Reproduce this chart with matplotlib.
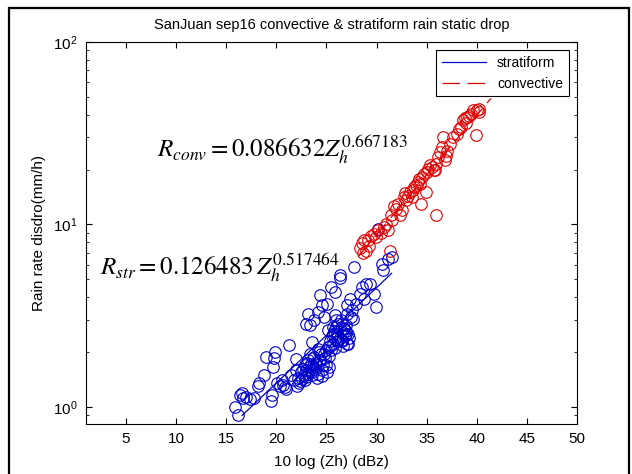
import numpy as np
import matplotlib
matplotlib.use('Agg')
from matplotlib import pyplot as plt
from matplotlib.patches import Rectangle

# stratiform drops (dBZ, rain rate mm/h)
str_dbz = [15.9, 16.2, 16.4, 16.7, 16.6, 17.0, 17.4, 17.8, 18.2, 18.3, 18.8, 19.0,
           19.8, 19.9, 19.7, 19.6, 19.5, 20.1, 20.4, 20.7, 20.9, 21.3, 21.5, 21.8,
           22.0, 22.1, 22.2, 22.4, 22.5, 22.6, 22.7, 22.8, 22.9, 23.0, 23.0, 23.1,
           23.2, 23.2, 23.3, 23.4, 23.4, 23.5, 23.6, 23.6, 23.7, 23.8, 23.9, 24.0,
           24.1, 24.2, 24.2, 24.3, 24.4, 24.5, 24.6, 24.7, 24.8, 24.9, 25.0, 25.0,
           25.1, 25.2, 25.3, 25.4, 25.5, 25.6, 25.7, 25.8, 25.9, 26.0, 26.1, 26.2,
           26.3, 26.4, 26.5, 26.6, 26.7, 26.8, 26.9, 27.0, 27.1, 27.2, 23.0, 23.2,
           23.4, 23.8, 24.2, 24.4, 24.6, 24.8, 25.1, 25.2, 25.5, 25.7, 25.7, 25.9,
           25.9, 26.1, 26.3, 26.4, 26.5, 26.7, 26.9, 27.0, 27.1, 27.3, 27.5, 27.6,
           27.7, 27.9, 28.3, 28.5, 28.7, 28.9, 29.3, 29.7, 29.9, 30.5, 30.6, 31.1,
           31.5, 30.1, 26.3, 27.0, 26.0, 25.4, 22.3, 22.9, 23.5, 24.0, 24.6, 25.3,
           25.9, 26.6, 21.0, 20.6, 22.0, 23.7, 24.3, 26.2, 26.9, 27.4]
str_rate = [1.00, 0.90, 1.17, 1.12, 1.20, 1.14, 1.10, 1.12, 1.30, 1.36, 1.50, 1.88,
            1.85, 2.00, 1.66, 1.17, 1.08, 1.35, 1.30, 1.32, 1.28, 2.18, 1.50, 1.40,
            1.84, 1.30, 1.45, 1.38, 1.55, 1.42, 1.62, 1.50, 1.70, 1.46, 1.60, 1.75,
            1.80, 1.52, 1.65, 1.59, 1.96, 1.72, 2.27, 1.50, 1.85, 1.88, 1.62, 1.69,
            1.45, 2.09, 1.52, 1.78, 1.80, 1.95, 1.59, 1.70, 1.96, 1.85, 1.69, 2.05,
            1.55, 2.13, 1.90, 2.30, 2.05, 2.45, 2.20, 2.60, 2.35, 2.75, 2.50, 2.85,
            2.40, 2.65, 2.30, 2.55, 2.70, 2.45, 2.60, 2.20, 2.50, 2.40, 2.86, 3.25,
            2.80, 2.98, 3.31, 4.09, 3.60, 3.11, 3.68, 2.63, 4.54, 2.74, 2.52, 4.27,
            3.18, 2.42, 5.27, 2.98, 2.32, 2.68, 2.52, 3.25, 2.22, 3.92, 3.39, 3.05,
            5.86, 3.68, 4.18, 4.54, 3.92, 4.74, 4.74, 4.18, 3.53, 6.10, 5.60, 6.50,
            6.60, 9.50, 5.10, 3.60, 3.00, 2.15, 1.35, 1.40, 1.55, 1.75, 1.48, 1.65,
            2.10, 2.15, 1.25, 1.40, 1.60, 1.68, 2.00, 2.30, 2.80, 3.10]

# convective drops
conv_dbz = [28.3, 28.5, 28.7, 28.9, 29.1, 29.4, 29.7, 29.9, 30.1, 30.7, 30.9, 31.1,
            31.3, 31.4, 31.7, 31.9, 32.1, 32.3, 32.5, 32.7, 32.9, 33.1, 33.3, 33.5,
            33.7, 33.9, 34.1, 34.3, 34.4, 34.5, 34.7, 34.9, 35.1, 35.3, 35.5, 35.7,
            35.9, 35.9, 36.1, 36.3, 36.5, 36.6, 36.8, 37.0, 37.6, 38.0, 38.2, 38.4,
            38.6, 38.8, 39.0, 39.4, 39.6, 39.9, 40.0, 40.2, 40.2, 28.6, 29.2, 30.4,
            31.5, 32.8, 33.6, 34.2, 35.0, 35.8, 36.9, 37.3, 38.9, 39.2]
conv_rate = [7.4, 7.9, 8.2, 7.2, 8.2, 8.7, 8.9, 8.5, 9.3, 9.7, 10.1, 9.3,
             7.2, 11.2, 12.7, 12.2, 13.0, 11.2, 12.0, 14.1, 13.6, 14.4, 15.0, 14.1,
             16.0, 16.4, 17.1, 16.7, 13.0, 18.2, 19.0, 15.0, 20.2, 21.1, 20.6, 19.8,
             11.2, 21.5, 23.4, 24.9, 26.5, 30.1, 22.5, 25.4, 30.1, 31.5, 33.5, 34.2,
             37.2, 38.1, 38.9, 40.5, 42.3, 30.8, 42.3, 43.1, 41.4, 7.0, 7.6, 9.0,
             10.6, 14.8, 15.4, 17.8, 19.4, 20.0, 23.8, 27.5, 36.0, 39.5]

# fitted power laws (end points)
str_fit_x = [16.6, 31.5]
str_fit_y = [0.90, 5.40]
conv_fit_x = [28.2, 41.4]
conv_fit_y = [6.7, 49.0]

plt.rcParams['font.family'] = ['Liberation Sans', 'DejaVu Sans']
plt.rcParams['mathtext.fontset'] = 'stix'

fig = plt.figure(figsize=(6.32, 4.74), dpi=100)
ax = fig.add_axes([0.136, 0.1055, 0.777, 0.806])

ax.semilogy(str_dbz, str_rate, 'o', mfc='none', mec='#0000cc', ms=8.3, mew=0.8)
ax.semilogy(conv_dbz, conv_rate, 'o', mfc='none', mec='#e00000', ms=8.3, mew=0.8)
l1, = ax.semilogy(str_fit_x, str_fit_y, '-', color='#0000cc', lw=0.9)
l2, = ax.semilogy(conv_fit_x, conv_fit_y, '--', color='#e00000', lw=0.9, dashes=(14, 6))

ax.set_xlim(1, 50)
ax.set_ylim(0.807, 100)
ax.set_xticks(range(5, 51, 5))
ax.tick_params(which='both', direction='in', top=True, right=True, labelsize=11)
ax.tick_params(which='major', length=4.5, pad=6)
ax.tick_params(which='minor', length=2.5)

ax.set_title('SanJuan sep16 convective & stratiform rain static drop', fontsize=10.5, pad=9)
ax.set_xlabel('10 log (Zh) (dBz)', fontsize=11, labelpad=6)
ax.set_ylabel('Rain rate disdro(mm/h)', fontsize=11, labelpad=5)

leg = ax.legend([l1, l2], ['stratiform', 'convective'], loc='upper right',
                fontsize=10, fancybox=False, edgecolor='black', framealpha=1,
                handlelength=3.2, borderaxespad=0.6)
leg.get_frame().set_linewidth(0.8)

ax.text(0.145, 0.699, r'$R_{conv} = 0.086632Z_h^{0.667183}$', transform=ax.transAxes,
        fontsize=18)
ax.text(0.029, 0.39, r'$R_{str} = 0.126483\,Z_h^{0.517464}$', transform=ax.transAxes,
        fontsize=18)

# outer frame of the pasted figure
fig.patches.append(Rectangle((9 / 632, -0.1), 620 / 632, 1.1 - 8 / 474, fill=False,
                             lw=1.6, edgecolor='black', transform=fig.transFigure))

fig.savefig('out.png', dpi=100)
